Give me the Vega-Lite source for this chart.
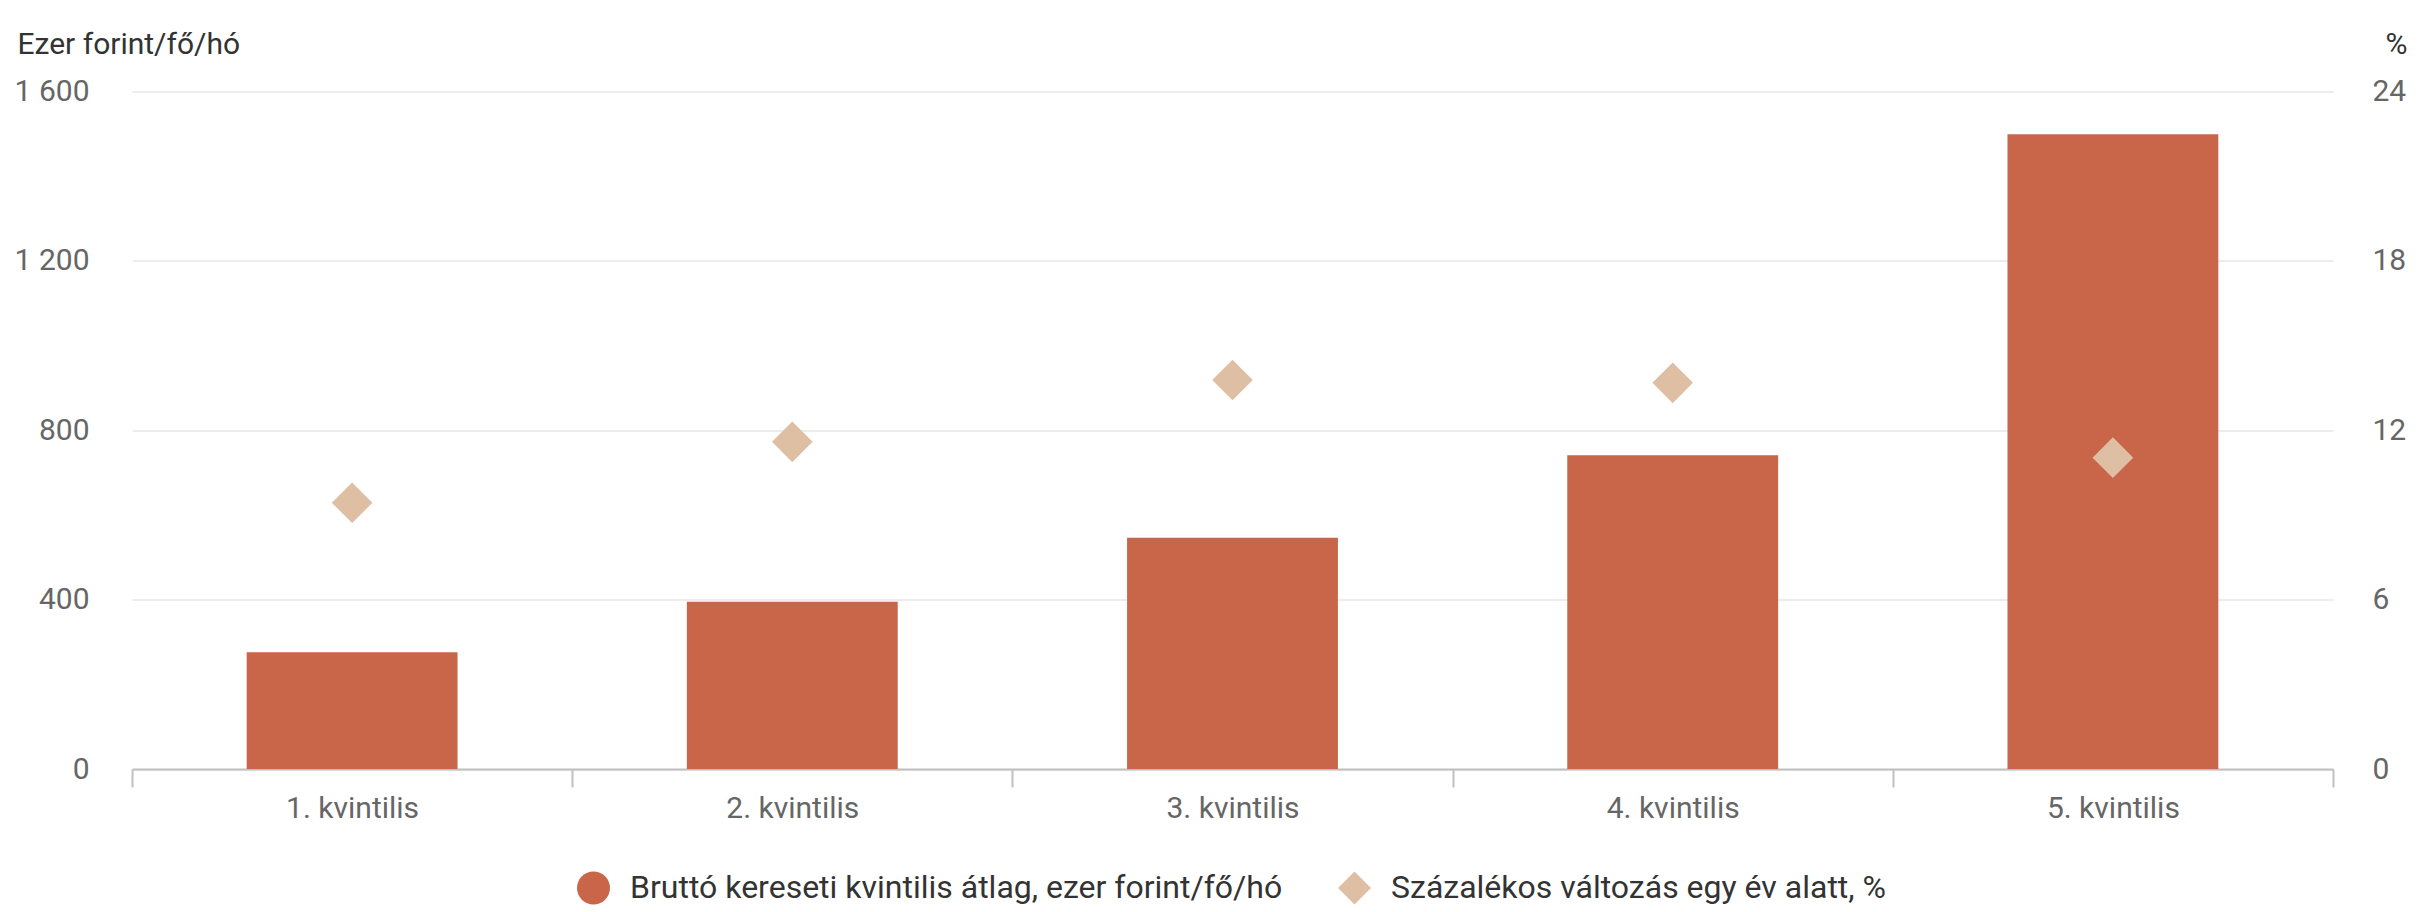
{
  "$schema": "https://vega.github.io/schema/vega-lite/v6.json",
  "autosize": {"type": "none"},
  "width": 2201,
  "height": 677.5,
  "padding": {"left": 132, "top": 91.5, "right": 100, "bottom": 143},
  "background": "white",
  "config": {"view": {"stroke": null}, "font": "Roboto"},
  "data": {
    "values": [
      {"kvintilis": "1. kvintilis", "kereset": 276, "valtozas": 9.43, "sorozat": "Százalékos változás egy év alatt, %"},
      {"kvintilis": "2. kvintilis", "kereset": 395, "valtozas": 11.59, "sorozat": "Százalékos változás egy év alatt, %"},
      {"kvintilis": "3. kvintilis", "kereset": 546, "valtozas": 13.78, "sorozat": "Százalékos változás egy év alatt, %"},
      {"kvintilis": "4. kvintilis", "kereset": 741, "valtozas": 13.68, "sorozat": "Százalékos változás egy év alatt, %"},
      {"kvintilis": "5. kvintilis", "kereset": 1499, "valtozas": 11.03, "sorozat": "Százalékos változás egy év alatt, %"}
    ]
  },
  "encoding": {
    "x": {
      "field": "kvintilis",
      "type": "nominal",
      "sort": null,
      "scale": {"paddingInner": 0, "paddingOuter": 0},
      "axis": {
        "title": null,
        "labelAngle": 0,
        "labelFont": "Roboto",
        "labelFontSize": 30,
        "labelColor": "#666666",
        "labelPadding": 30,
        "labelBaseline": "alphabetic",
        "labelLimit": 0,
        "tickBand": "extent",
        "tickSize": 18,
        "tickColor": "#c0c0c0",
        "tickWidth": 2,
        "domainColor": "#c0c0c0",
        "domainWidth": 2,
        "grid": false
      }
    }
  },
  "layer": [
    {
      "mark": {"type": "bar", "color": "#C9664A", "width": {"band": 0.479}},
      "encoding": {
        "y": {
          "field": "kereset",
          "type": "quantitative",
          "scale": {"domain": [0, 1600], "nice": false},
          "axis": {
            "title": "Ezer forint/fő/hó",
            "titleAngle": 0,
            "titleAlign": "left",
            "titleBaseline": "alphabetic",
            "titleX": -115,
            "titleY": -38.5,
            "titleFont": "Roboto",
            "titleFontSize": 30,
            "titleFontWeight": "normal",
            "titleColor": "#333333",
            "values": [0, 400, 800, 1200, 1600],
            "labelExpr": "replace(format(datum.value, ','), ',', ' ')",
            "labelFont": "Roboto",
            "labelFontSize": 30,
            "labelColor": "#666666",
            "labelPadding": 43,
            "ticks": false,
            "tickSize": 0,
            "domain": false,
            "grid": true,
            "gridColor": "#e6e6e6",
            "gridWidth": 1.5
          }
        }
      }
    },
    {
      "mark": {"type": "point", "filled": true, "size": 1650, "opacity": 1, "strokeWidth": 0},
      "encoding": {
        "y": {
          "field": "valtozas",
          "type": "quantitative",
          "scale": {"domain": [0, 24], "nice": false},
          "axis": {
            "orient": "right",
            "title": "%",
            "titleAngle": 0,
            "titleAlign": "center",
            "titleBaseline": "alphabetic",
            "titleX": 63,
            "titleY": -38.5,
            "titleFont": "Roboto",
            "titleFontSize": 30,
            "titleFontWeight": "normal",
            "titleColor": "#333333",
            "values": [0, 6, 12, 18, 24],
            "labelFont": "Roboto",
            "labelFontSize": 30,
            "labelColor": "#666666",
            "labelPadding": 39,
            "labelAlign": "left",
            "ticks": false,
            "tickSize": 0,
            "domain": false,
            "grid": false
          }
        },
        "color": {
          "field": "sorozat",
          "type": "nominal",
          "scale": {
            "domain": ["Bruttó kereseti kvintilis átlag, ezer forint/fő/hó", "Százalékos változás egy év alatt, %"],
            "range": ["#C9664A", "#DFBFA4"]
          },
          "legend": {
            "title": null,
            "orient": "none",
            "direction": "horizontal",
            "legendX": 445,
            "legendY": 780,
            "labelFont": "Roboto",
            "labelFontSize": 32,
            "labelColor": "#333333",
            "labelLimit": 1000,
            "labelOffset": 20,
            "columnPadding": 55,
            "symbolSize": 1089,
            "symbolStrokeWidth": 0
          }
        },
        "shape": {
          "field": "sorozat",
          "type": "nominal",
          "scale": {
            "domain": ["Bruttó kereseti kvintilis átlag, ezer forint/fő/hó", "Százalékos változás egy év alatt, %"],
            "range": ["circle", "diamond"]
          },
          "legend": {
            "title": null,
            "orient": "none",
            "direction": "horizontal",
            "legendX": 445,
            "legendY": 780,
            "labelFont": "Roboto",
            "labelFontSize": 32,
            "labelColor": "#333333",
            "labelLimit": 1000,
            "labelOffset": 20,
            "columnPadding": 55,
            "symbolSize": 1089,
            "symbolStrokeWidth": 0
          }
        }
      }
    }
  ],
  "resolve": {"scale": {"y": "independent"}}
}
